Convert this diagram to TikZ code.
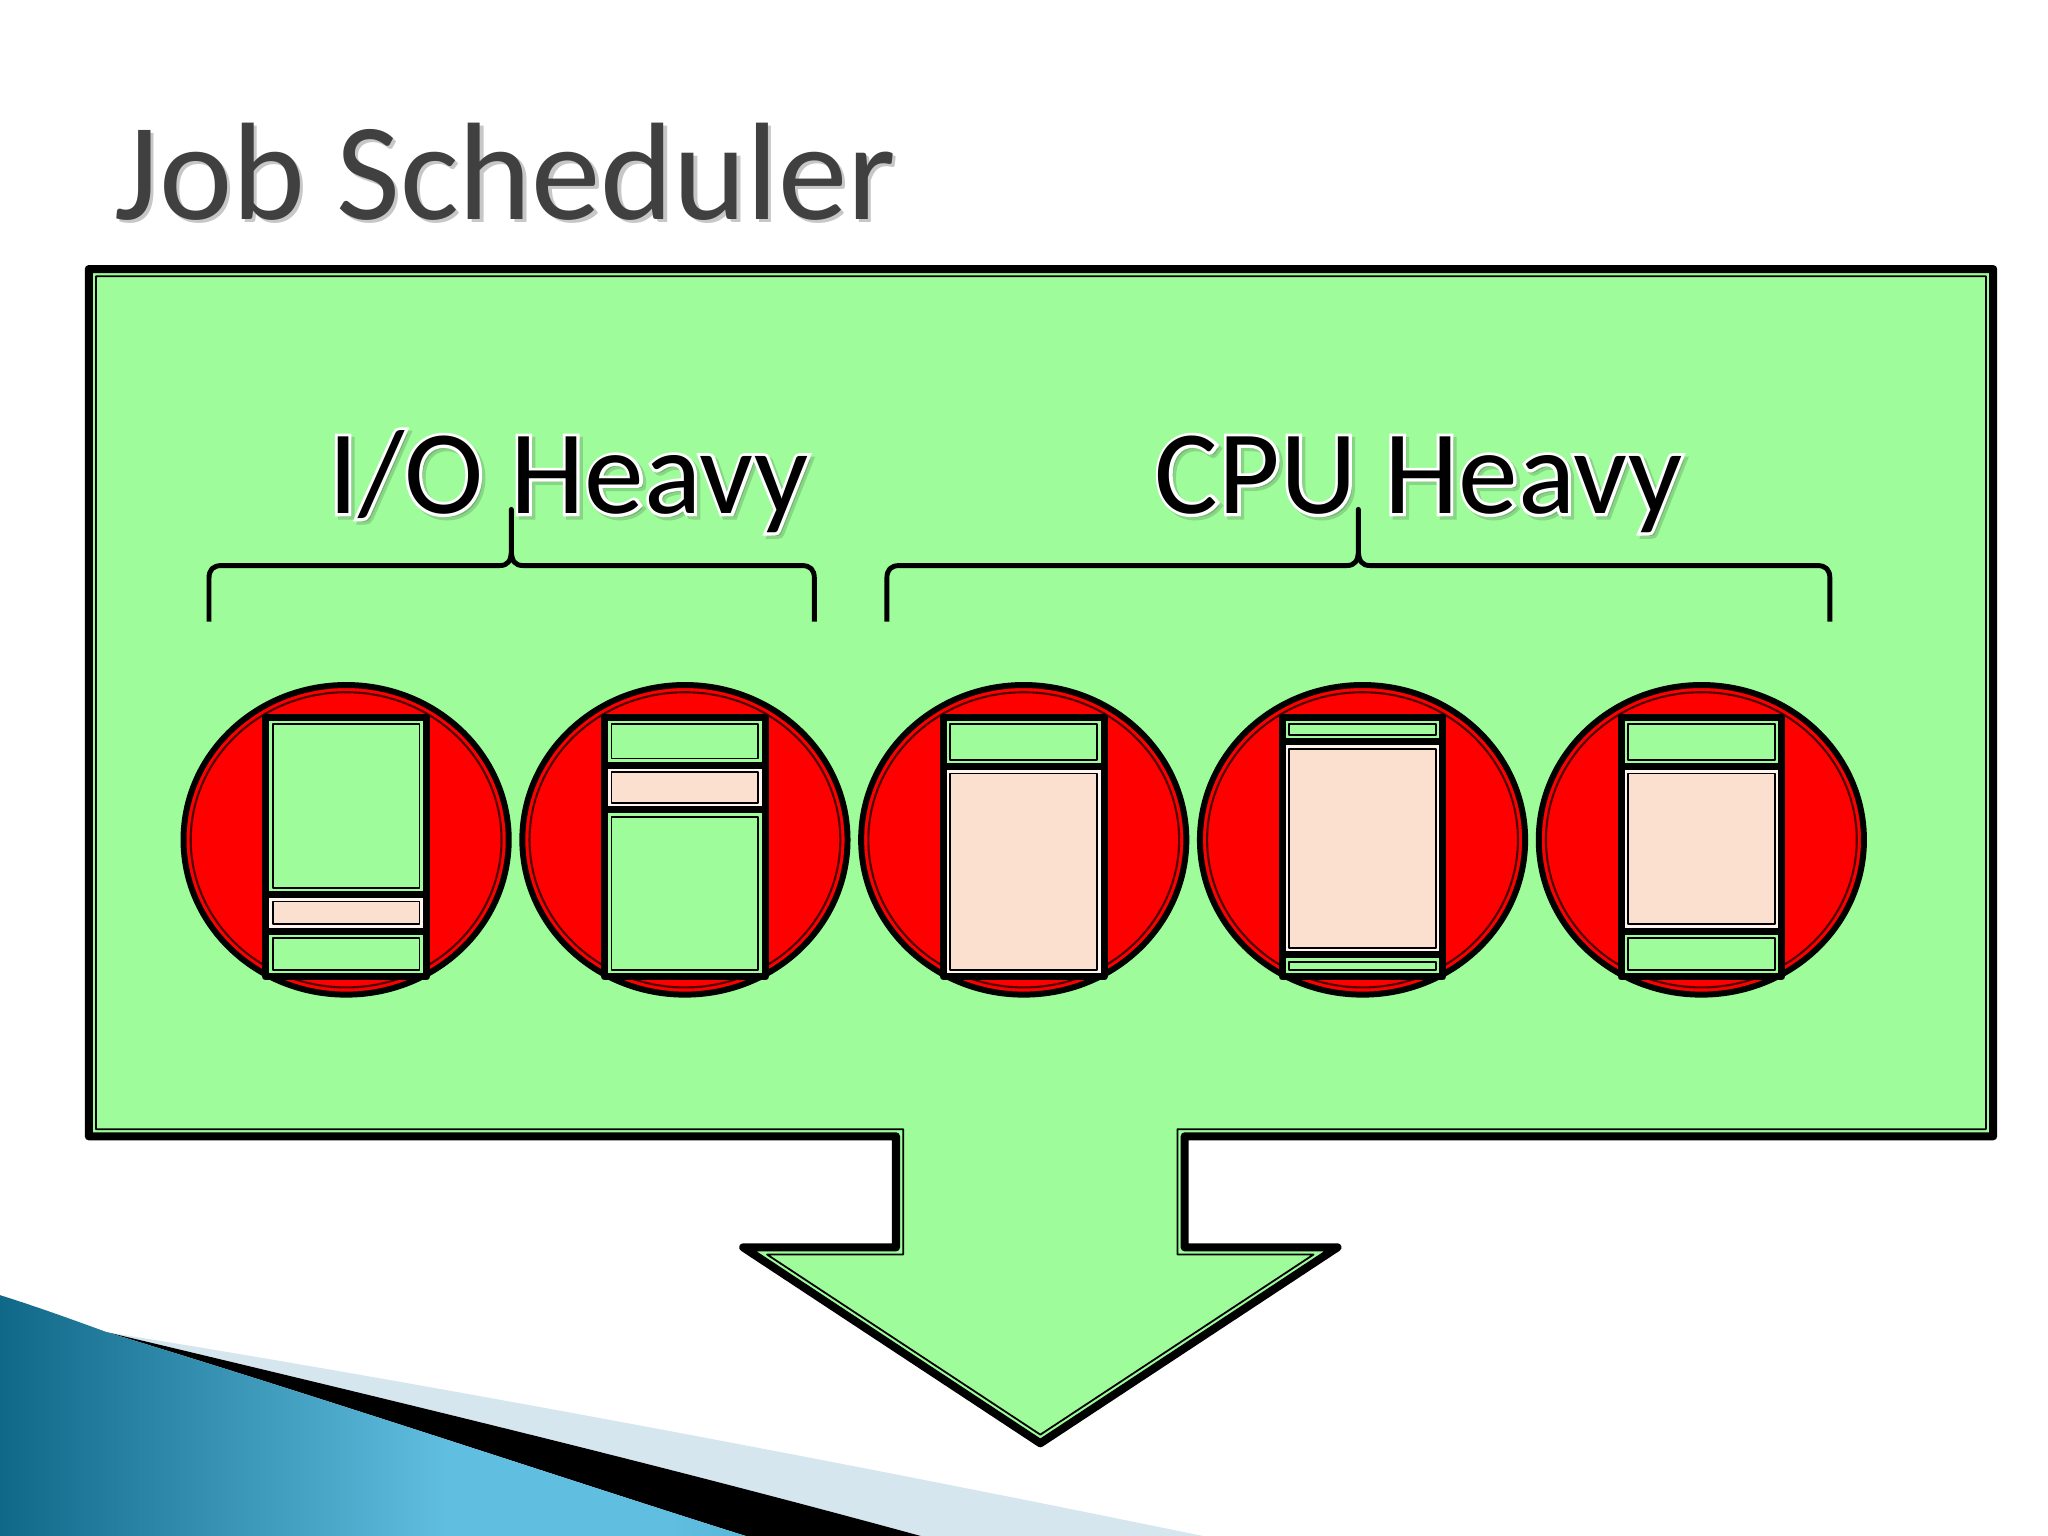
\documentclass[tikz,border=0pt]{standalone}
\usepackage{fontspec}
\setmainfont{Carlito}
\newfontfamily\jshalofont[FakeBold=5]{Carlito}
\definecolor{boxgreen}{RGB}{158,252,154}
\definecolor{ovalred}{RGB}{255,0,0}
\definecolor{peach}{RGB}{251,224,208}
\definecolor{peachgap}{RGB}{255,244,238}
\definecolor{titlegray}{RGB}{64,64,64}
\definecolor{swlight}{RGB}{214,230,239}
\definecolor{swdark}{RGB}{16,104,136}
\definecolor{swmid}{RGB}{96,190,224}
\definecolor{swright}{RGB}{40,146,186}
\pgfdeclarehorizontalshading{jsblue}{100bp}{color(0bp)=(swdark); color(25bp)=(swdark); color(55bp)=(swmid); color(70bp)=(swmid); color(100bp)=(swright)}
\tikzset{
  thickline/.style={draw=black, line width=2pt, line join=round},
  thinline/.style={draw=black, line width=0.5pt, line join=round},
  ovalthick/.style={draw=black, line width=1.7pt, fill=ovalred},
  ovalthin/.style={draw=black!70!red, line width=0.6pt},
  bracestyle/.style={draw=black, line width=1.4pt, line join=round},
  lbl/.style={font=\fontsize{34}{36}\selectfont, inner sep=0pt, anchor=base},
  halolbl/.style={font=\jshalofont\fontsize{34}{36}\selectfont, inner sep=0pt, anchor=base},
  ttl/.style={font=\fontsize{39.5}{44}\selectfont, inner sep=0pt, anchor=base},
}
% green segment: x1 y1 x2 y2
\newcommand\jsGseg[4]{%
  \draw[thickline, fill=boxgreen] (#1,#2) rectangle (#3,#4);
  \draw[thinline] (#1+5.3,#2+5.3) rectangle (#3-5.3,#4-5.3);}
% peach segment
\newcommand\jsPseg[4]{%
  \draw[thickline, fill=peachgap] (#1,#2) rectangle (#3,#4);
  \draw[thinline, fill=peach] (#1+5.3,#2+5.3) rectangle (#3-5.3,#4-5.3);}
% oval at centre x
\newcommand\jsOval[1]{%
  \draw[ovalthick] (#1,643) ellipse [x radius=1.626cm, y radius=1.548cm];
  \draw[ovalthin] (#1,643) ellipse [x radius=1.554cm, y radius=1.476cm];}
% brace: left x, middle x, right x
\newcommand\jsBrace[3]{%
  \draw[bracestyle] (#1,476) -- (#1,443) .. controls (#1,436) and (#1+3,433) .. (#1+10,433)
    -- (#2-9,433) .. controls (#2-3,433) and (#2,430) .. (#2,421) -- (#2,390)
    -- (#2,421) .. controls (#2,430) and (#2+3,433) .. (#2+9,433)
    -- (#3-10,433) .. controls (#3-3,433) and (#3,436) .. (#3,443) -- (#3,476);}
\begin{document}
\begin{tikzpicture}[x=0.0130612cm, y=-0.0130612cm]
\useasboundingbox (0,0) rectangle (1568,1176);
\fill[white] (0,0) rectangle (1568,1176);

% bottom-left swoosh
\fill[swlight] (82,1020) .. controls (300,1055) and (600,1110) .. (921,1176)
  -- (705,1176) .. controls (500,1120) and (300,1072) .. (82,1020) -- cycle;
\fill[black] (82,1020) .. controls (300,1072) and (500,1120) .. (705,1176)
  -- (571,1176) .. controls (450,1138) and (250,1071) .. (82,1020) -- cycle;
\shade[shading=jsblue, shading angle=0]
  (0,991.6) .. controls (30,1001) and (60,1012) .. (82,1020)
  .. controls (250,1071) and (450,1138) .. (571,1176) -- (0,1176) -- cycle;

% title
\node[ttl, text=black!22] (titleshadow) at (389.5,170.5) {Job Scheduler};
\node[ttl, text=titlegray] (title) at (387,168) {Job Scheduler};

% callout box with down arrow
\draw[thickline, line width=2.3pt, fill=boxgreen]
  (68,206) -- (1526,206) -- (1526,870) -- (907,870) -- (907,955) -- (1024,955)
  -- (796.5,1105) -- (569,955) -- (686,955) -- (686,870) -- (68,870) -- cycle;
\draw[thinline]
  (73.5,211.5) -- (1520.5,211.5) -- (1520.5,864.5) -- (901.5,864.5) -- (901.5,960.5)
  -- (1005.7,960.5) -- (796.5,1098.4) -- (587.3,960.5) -- (691.5,960.5)
  -- (691.5,864.5) -- (73.5,864.5) -- cycle;

% braces
\jsBrace{160}{391.5}{623.5}
\jsBrace{679}{1040}{1401}

% labels: soft shadow, white outline, black letters
\node[halolbl, text=black, opacity=0.15] (ioshadow) at (437.5,395.5) {I/O Heavy};
\node[halolbl, text=black, opacity=0.15] (cpushadow) at (1088.5,395.5) {CPU Heavy};
\node[halolbl, text=white] (iohalo) at (435,393) {I/O Heavy};
\node[halolbl, text=white] (cpuhalo) at (1086,393) {CPU Heavy};
\node[lbl, text=black] (io) at (435,393) {I/O Heavy};
\node[lbl, text=black] (cpu) at (1086,393) {CPU Heavy};

% ovals
\jsOval{265}
\jsOval{524.4}
\jsOval{783.8}
\jsOval{1043.2}
\jsOval{1302.6}

% job bars
% 1
\jsGseg{203.5}{549}{326.5}{685}
\jsPseg{203.5}{685}{326.5}{713}
\jsGseg{203.5}{713}{326.5}{748}
% 2
\jsGseg{462.9}{549}{585.9}{586}
\jsPseg{462.9}{586}{585.9}{620}
\jsGseg{462.9}{620}{585.9}{748}
% 3
\jsGseg{722.3}{549}{845.3}{587}
\jsPseg{722.3}{587}{845.3}{748}
% 4
\jsGseg{981.7}{549}{1104.7}{568}
\jsPseg{981.7}{568}{1104.7}{731}
\jsGseg{981.7}{731}{1104.7}{748}
% 5
\jsGseg{1241.1}{549}{1364.1}{587}
\jsPseg{1241.1}{587}{1364.1}{713}
\jsGseg{1241.1}{713}{1364.1}{748}
\end{tikzpicture}
\end{document}
